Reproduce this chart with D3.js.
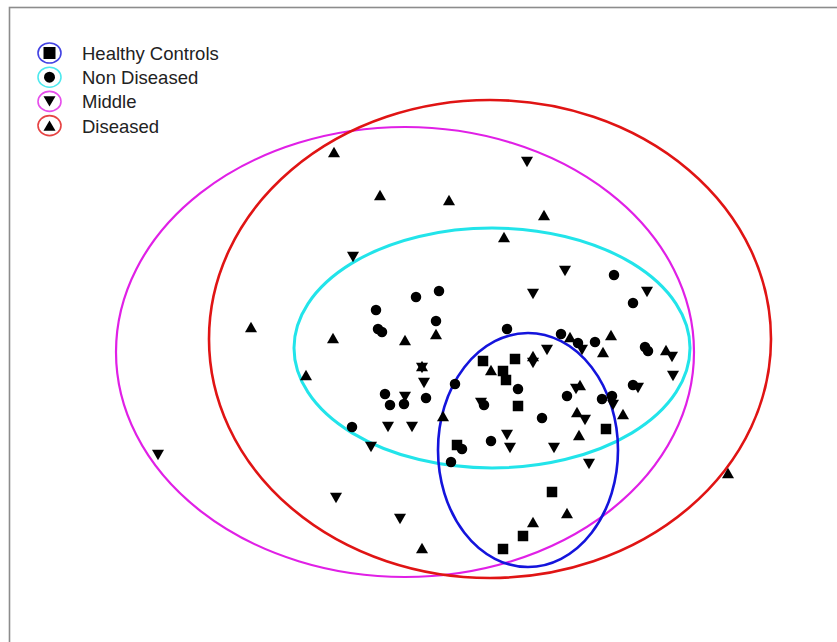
<!DOCTYPE html>
<html><head><meta charset="utf-8">
<script src="https://cdn.jsdelivr.net/npm/d3@7"></script>
<style>html,body{margin:0;padding:0;background:#fff;}svg{display:block;}</style>
</head><body>
<svg id="chart" width="837" height="642"></svg>
<script>
// ---- data (x, y in plot units) ----
const groups = ["Healthy Controls", "Non Diseased", "Middle", "Diseased"];
const groupColors = ["#1414dc", "#22e4ea", "#e020e6", "#e01414"];
const groupSymbols = ["square", "circle", "down", "up"];

const healthyPts = [[48.3,28.1],[51.5,28.3],[50.3,27.1],[50.6,26.2],[51.8,23.6],[60.6,21.3],[55.2,15.0],[52.3,10.6],[50.3,9.3],[45.7,19.7]];
const nonDiseasedPts = [[37.6,33.2],[41.6,34.5],[43.9,35.1],[43.6,32.1],[37.8,31.3],[38.2,31.0],[45.5,25.8],[38.5,24.8],[40.4,23.8],[39.0,23.7],[42.6,24.4],[35.2,21.5],[46.2,19.3],[45.1,18.0],[50.7,31.3],[56.1,30.8],[57.8,29.9],[59.5,30.0],[61.4,36.7],[63.3,33.9],[64.5,29.5],[64.8,29.1],[63.3,25.7],[60.2,24.3],[61.2,24.6],[56.7,24.6],[51.8,25.3],[48.4,23.7],[54.2,22.4],[49.1,20.1]];
const middlePts = [[52.7,48.0],[35.3,38.5],[56.5,37.1],[53.3,34.8],[64.7,35.0],[42.4,25.9],[42.2,27.4],[40.5,24.5],[38.8,21.5],[41.2,21.5],[37.1,19.5],[15.8,18.7],[33.6,14.4],[40.0,12.3],[54.7,29.2],[53.3,27.9],[58.2,29.2],[57.6,25.3],[61.3,23.7],[63.8,25.4],[67.2,28.5],[67.3,26.6],[58.5,22.2],[50.7,20.7],[51.0,19.4],[55.4,19.4],[58.9,17.8],[48.1,23.9]];
const diseasedPts = [[33.4,49.0],[38.0,44.7],[44.9,44.2],[54.4,42.7],[50.4,40.5],[25.1,31.5],[33.3,30.4],[40.5,30.2],[43.6,30.8],[30.6,26.7],[42.2,27.6],[44.3,22.6],[49.1,27.2],[53.3,28.6],[57.0,30.5],[61.1,30.7],[60.3,29.0],[66.6,29.2],[58.0,25.7],[62.3,22.8],[57.7,23.0],[57.9,20.7],[56.7,12.9],[53.3,12.0],[42.2,9.4],[72.8,16.9]];

// ellipse centre x, centre y, radius x, radius y (plot units)
const ellCx = [52.8, 49.2, 40.5, 49.0];
const ellCy = [19.2, 29.4, 29.0, 30.3];
const ellRx = [9.0, 19.8, 28.9, 28.1];
const ellRy = [11.7, 12.0, 22.5, 23.9];

// ---- drawing ----
const svg = d3.select("#chart");
const x = d3.scaleLinear().domain([0, 83.7]).range([0, 837]);
const y = d3.scaleLinear().domain([0, 64.2]).range([642, 0]);

svg.append("rect").attr("x", 9.5).attr("y", 7.5).attr("width", 900).attr("height", 640)
  .attr("fill", "#fff").attr("stroke", "#8c8c8c").attr("stroke-width", 1.6);

const ellWidths = [2.6, 3, 2.2, 2.6];
const drawOrder = [2, 3, 1, 0];
drawOrder.forEach(i => {
  svg.append("ellipse")
    .attr("cx", x(ellCx[i])).attr("cy", y(ellCy[i]))
    .attr("rx", x(ellRx[i]) - x(0)).attr("ry", y(0) - y(ellRy[i]))
    .attr("fill", "none").attr("stroke", groupColors[i]).attr("stroke-width", ellWidths[i]);
});

function symPath(type, s) {
  const h = s / 2;
  if (type === "square") return `M${-h},${-h}H${h}V${h}H${-h}Z`;
  if (type === "circle") return `M${h},0A${h},${h} 0 1,1 ${-h},0A${h},${h} 0 1,1 ${h},0Z`;
  const th = s * 0.86 / 2;
  if (type === "up") return `M0,${-th}L${h},${th}L${-h},${th}Z`;
  return `M0,${th}L${h},${-th}L${-h},${-th}Z`;
}
const symSize = {square: 10.5, circle: 10.5, up: 12, down: 12};

const allPts = [healthyPts, nonDiseasedPts, middlePts, diseasedPts];
allPts.forEach((pts, gi) => {
  const t = groupSymbols[gi];
  svg.append("g").selectAll("path").data(pts).join("path")
    .attr("transform", d => `translate(${x(d[0])},${y(d[1])})`)
    .attr("d", symPath(t, symSize[t]))
    .attr("fill", "#000");
});

// legend
const lg = svg.append("g");
groups.forEach((g, i) => {
  const cy = 53 + i * 24.2;
  lg.append("ellipse").attr("cx", 49.5).attr("cy", cy).attr("rx", 11.5).attr("ry", 10)
    .attr("fill", "#fff").attr("stroke", groupColors[i]).attr("stroke-width", 1.6).attr("stroke-opacity", 0.8);
  const t = groupSymbols[i];
  lg.append("path").attr("transform", `translate(49.5,${cy})`).attr("d", symPath(t, t === "circle" ? 11 : 12)).attr("fill", "#000");
  lg.append("text").attr("x", 82).attr("y", cy + 7).text(g)
    .attr("font-family", "Liberation Sans, Arial, sans-serif").attr("font-size", 18.5).attr("fill", "#222");
});
</script>
</body></html>
